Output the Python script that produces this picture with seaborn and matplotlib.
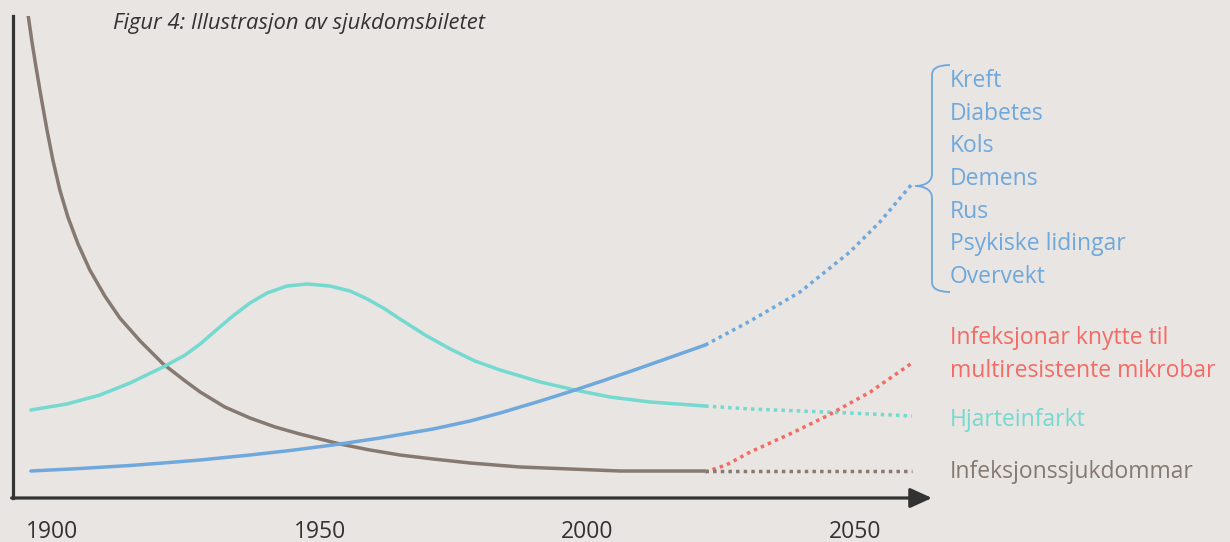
import numpy as np
import pandas as pd
import matplotlib
matplotlib.use("Agg")
import matplotlib.pyplot as plt
from matplotlib.path import Path
from matplotlib.patches import PathPatch
import seaborn as sns

# ---------------- data (illustrative levels, arbitrary units) ----------------
tick_years = [1900, 1950, 2000, 2050]
tick_labels = ["1900", "1950", "2000", "2050"]

infection_years = [1895.6, 1896.3, 1897.05, 1898.0, 1899.1, 1900.2, 1901.5, 1903.0, 1904.9,
                   1907.1, 1909.9, 1912.7, 1916.5, 1920.8, 1924.9, 1927.7, 1932.3, 1937.0,
                   1941.7, 1946.3, 1953.8, 1959.4, 1965.0, 1971.2, 1978.1, 1987.4, 1996.8,
                   2006.1, 2022.0]
infection_level = [482, 456, 431, 401, 368, 338, 308, 281, 254,
                   228, 202, 180, 157, 134, 117, 106, 91, 80,
                   71, 64, 54, 48, 43, 39, 35, 31, 29,
                   27, 27]
infection_proj_years = [2022.0, 2060.6]
infection_proj_level = [27, 27]

heart_years = [1896.1, 1902.8, 1909.0, 1914.6, 1920.8, 1924.9, 1927.7, 1930.5, 1933.8,
               1937.0, 1940.2, 1943.9, 1947.7, 1951.9, 1955.7, 1958.9, 1962.2, 1965.0,
               1969.7, 1974.4, 1979.0, 1983.7, 1991.2, 1997.7, 2004.2, 2011.7, 2022.0]
heart_level = [88, 94, 103, 115, 131, 143, 154, 167, 182,
               195, 205, 212, 214, 212, 207, 199, 189, 179,
               163, 149, 137, 128, 116, 108, 101, 96, 92]
heart_proj_years = [2022.0, 2030.4, 2039.7, 2049.0, 2060.6]
heart_proj_level = [92, 89, 87, 85, 82]

chronic_years = [1896.1, 1905.3, 1914.6, 1920.8, 1927.7, 1937.0, 1944.5, 1952.5, 1961.3,
                 1971.2, 1978.1, 1983.7, 1991.2, 1997.7, 2003.3, 2008.5, 2015.4, 2022.0]
chronic_level = [27, 29.5, 32.5, 35, 38, 43, 47.5, 53, 60,
                 69, 77, 85, 97, 108, 118, 127.5, 140.5, 153]
chronic_proj_years = [2022.0, 2030.4, 2039.7, 2049.0, 2054.6, 2060.6]
chronic_proj_level = [153, 177, 206, 246, 276, 314]

resistant_years = [2022.0, 2025.9, 2030.4, 2037.8, 2044.7, 2052.8, 2060.6]
resistant_level = [26, 33, 46, 64, 82, 106, 135]

chronic_labels = ["Kreft", "Diabetes", "Kols", "Demens", "Rus", "Psykiske lidingar", "Overvekt"]
resistant_label = ["Infeksjonar knytte til", "multiresistente mikrobar"]
heart_label = "Hjarteinfarkt"
infection_label = "Infeksjonssjukdommar"
title = "Figur 4: Illustrasjon av sjukdomsbiletet"

# ---------------- style ----------------
BG = "#e8e5e2"
C_BROWN = "#857971"
C_TEAL = "#74d9cf"
C_BLUE = "#6ea8dc"
C_RED = "#f56a64"
C_AXIS = "#333333"

sns.set_theme(style="white")
plt.rcParams["font.family"] = ["Open Sans", "DejaVu Sans"]
plt.rcParams["figure.facecolor"] = BG
plt.rcParams["axes.facecolor"] = BG

W, H = 1230, 542
fig = plt.figure(figsize=(W / 100, H / 100), dpi=100)
fig.patch.set_facecolor(BG)

def fx(px):
    return px / W

def fy(py):
    return 1 - py / H

ax_left, ax_right, ax_top, ax_bottom = 13, 932, 16, 498
ax = fig.add_axes([fx(ax_left), fy(ax_bottom), fx(ax_right - ax_left), (ax_bottom - ax_top) / H])
ax.set_facecolor(BG)

PX_PER_YEAR = 5.356
PX_1975 = 453.5
ax.set_xlim(1975 + (ax_left - PX_1975) / PX_PER_YEAR, 1975 + (ax_right - PX_1975) / PX_PER_YEAR)
ax.set_ylim(0, ax_bottom - ax_top)

LW = 2.5
DOT = (0, (1, 1.2))

def line(xs, ys, color, dotted=False):
    sns.lineplot(x=xs, y=ys, ax=ax, color=color, linewidth=LW, sort=False,
                 estimator=None, linestyle=DOT if dotted else "-")

line(infection_years, infection_level, C_BROWN)
line(heart_years, heart_level, C_TEAL)
line(chronic_years, chronic_level, C_BLUE)
line(chronic_proj_years, chronic_proj_level, C_BLUE, dotted=True)
line(heart_proj_years, heart_proj_level, C_TEAL, dotted=True)
line(resistant_years, resistant_level, C_RED, dotted=True)
line(infection_proj_years, infection_proj_level, C_BROWN, dotted=True)

# axes styling
for s in ["top", "right", "bottom"]:
    ax.spines[s].set_visible(False)
ax.spines["left"].set_color(C_AXIS)
ax.spines["left"].set_linewidth(2.3)
ax.set_yticks([])
ax.set_xticks(tick_years)
ax.set_xticklabels(tick_labels, fontsize=16.5, color=C_AXIS)
for t in ax.get_xticklabels():
    t.set_va("center")
ax.tick_params(axis="x", length=0, pad=24.5)
ax.set_xlabel("")
ax.set_ylabel("")

# x axis with arrow
ax.annotate("", xy=(1.0, 0), xytext=(-0.0015, 0), xycoords="axes fraction",
            arrowprops=dict(arrowstyle="-|>,head_length=1.1,head_width=0.5",
                            lw=2.3, color=C_AXIS, shrinkA=0, shrinkB=0),
            annotation_clip=False)

# title
fig.text(fx(113), fy(23), title, fontsize=15.8, style="italic", color=C_AXIS,
         va="center", ha="left")

# right labels
LAB = 16.5
for i, lab in enumerate(chronic_labels):
    fig.text(fx(950), fy(81 + i * 32.7), lab, fontsize=LAB, color=C_BLUE, va="center", ha="left")
for i, lab in enumerate(resistant_label):
    fig.text(fx(950), fy(338 + i * 33), lab, fontsize=LAB, color=C_RED, va="center", ha="left")
fig.text(fx(950), fy(420), heart_label, fontsize=LAB, color=C_TEAL, va="center", ha="left")
fig.text(fx(950), fy(472), infection_label, fontsize=LAB, color=C_BROWN, va="center", ha="left")

# brace
bx, tipx, endx = 932, 915, 950
ytop, ymid, ybot = 65, 186, 292
pts = [
    (endx, ytop), (bx, ytop), (bx, ytop + 10),
    (bx, ymid - 12),
    (bx, ymid - 2), (tipx + 6, ymid), (tipx, ymid),
    (tipx + 6, ymid), (bx, ymid + 2), (bx, ymid + 12),
    (bx, ybot - 10),
    (bx, ybot), (endx, ybot),
]
codes = [Path.MOVETO, Path.CURVE3, Path.CURVE3,
         Path.LINETO,
         Path.CURVE4, Path.CURVE4, Path.CURVE4,
         Path.CURVE4, Path.CURVE4, Path.CURVE4,
         Path.LINETO,
         Path.CURVE3, Path.CURVE3]
verts = [(fx(x), fy(y)) for x, y in pts]
brace = PathPatch(Path(verts, codes), transform=fig.transFigure, fill=False,
                  edgecolor=C_BLUE, lw=1.3)
fig.patches.append(brace)

fig.savefig("out.png", dpi=100, facecolor=BG)
